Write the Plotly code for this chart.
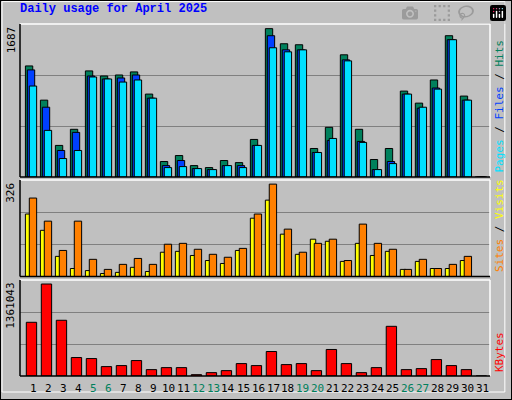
import plotly.graph_objects as go

days = list(range(1, 32))
hits = [1227,849,349,527,1172,1116,1127,1161,916,171,237,126,104,182,159,415,1639,1472,1461,315,549,1350,527,193,315,949,816,1072,1561,894,0]
files = [1183,771,293,493,1116,1083,1094,1127,871,126,182,93,82,126,126,349,1561,1405,1405,271,404,1294,393,82,171,916,760,983,1517,849,0]
pages = [1005,515,204,293,1105,1083,1049,1072,871,104,115,93,82,126,104,349,1428,1383,1405,271,426,1283,382,82,148,916,771,971,1517,849,0]
visits = [265,187,88,187,58,24,41,61,41,109,112,92,75,65,95,211,312,160,82,112,126,54,177,112,92,24,58,27,41,68,0]
sites = [211,156,68,27,20,10,14,31,17,82,85,71,54,44,88,197,258,143,75,126,119,51,112,71,85,24,51,27,27,54,0]
kbytes = [761440,1303966,789994,261745,247468,133252,147529,218914,90421,118975,118975,19036,47590,76144,176083,147529,347407,161806,176083,76144,375961,176083,47590,118975,704332,90421,104698,233191,147529,90421,0]
weekend = [5,6,12,13,19,20,26,27]
max_hits, max_visits, max_kb = 1687, 326, 1361043

fig = go.Figure()
def bar(y, color, off, w, xa, ya):
    fig.add_trace(go.Bar(x=days, y=y, offset=off, width=w, marker=dict(color=color, line=dict(color="black", width=1)),
                         xaxis=xa, yaxis=ya, showlegend=False, hoverinfo="skip"))
bar(hits, "#00805C", -0.51, 0.49, "x", "y")
bar(files, "#0040FF", -0.38, 0.49, "x", "y")
bar(pages, "#00E0FF", -0.25, 0.49, "x", "y")
bar(sites, "#FFFF00", -0.51, 0.36, "x2", "y2")
bar(visits, "#FF8000", -0.25, 0.49, "x2", "y2")
bar(kbytes, "#FF0000", -0.45, 0.69, "x3", "y3")

xd = [20/512, 490/512]
doms = [[1-177/400, 1-24/400], [1-276.5/400, 1-180/400], [1-376/400, 1-280/400]]
maxes = [max_hits, max_visits, max_kb]
lay = dict(barmode="overlay", width=512, height=400, margin=dict(l=0, r=0, t=0, b=0),
           paper_bgcolor="#C0C0C0", plot_bgcolor="#C0C0C0", font=dict(family="DejaVu Sans Mono", size=11, color="black"))
for i in range(3):
    s = "" if i == 0 else str(i+1)
    m = maxes[i]
    top = m * (152/151.7) if i == 0 else m
    lay["xaxis"+s] = dict(domain=xd, range=[0.13, 31.47], showticklabels=False, showgrid=False, zeroline=False, anchor="y"+s, fixedrange=True)
    lay["yaxis"+s] = dict(domain=doms[i], range=[0, top], tickvals=[m/3, 2*m/3], showticklabels=False, showgrid=True,
                          gridcolor="#808080", gridwidth=1, zeroline=False, anchor="x"+s, fixedrange=True)
fig.update_layout(**lay)

shapes = [
    dict(type="rect", xref="paper", yref="paper", x0=0, x1=1, y0=0, y1=1, line=dict(color="black", width=2), fillcolor="rgba(0,0,0,0)"),
    dict(type="rect", xref="paper", yref="paper", x0=0.004, x1=0.986, y0=0.02, y1=0.996, line=dict(color="white", width=1), fillcolor="rgba(0,0,0,0)"),
]
for d in doms:
    shapes.append(dict(type="line", xref="paper", yref="paper", x0=xd[0], x1=xd[1], y0=d[1], y1=d[1], line=dict(color="white", width=1.5)))
    shapes.append(dict(type="line", xref="paper", yref="paper", x0=xd[1], x1=xd[1], y0=d[0], y1=d[1], line=dict(color="white", width=1.5)))
    shapes.append(dict(type="line", xref="paper", yref="paper", x0=xd[0], x1=xd[0], y0=d[0], y1=d[1], line=dict(color="black", width=1.5)))
    shapes.append(dict(type="line", xref="paper", yref="paper", x0=xd[0], x1=xd[1], y0=d[0], y1=d[0], line=dict(color="black", width=1.5)))
fig.update_layout(shapes=shapes)

ann = [dict(text="<b>Daily usage for April 2025</b>", x=18/512, y=1-9/400, xref="paper", yref="paper", xanchor="left", yanchor="middle",
            showarrow=False, font=dict(family="Liberation Mono", size=12, color="#0000FF"))]
for i, m in enumerate(maxes):
    ann.append(dict(text=str(m), x=11/512, y=doms[i][1]-0.002, xref="paper", yref="paper", textangle=-90, xanchor="center", yanchor="top",
                    showarrow=False, font=dict(size=11)))
legends = [
    ('<span style="color:#00E0FF">Pages</span> / <span style="color:#0040FF">Files</span> / <span style="color:#00805C">Hits</span>', doms[0]),
    ('<span style="color:#FF8000">Sites</span> / <span style="color:#FFFF00">Visits</span>', doms[1]),
    ('<span style="color:#FF0000">KBytes</span>', doms[2]),
]
for t, d in legends:
    ann.append(dict(text=t, x=499/512, y=d[0]+0.005, xref="paper", yref="paper", textangle=-90, xanchor="center", yanchor="bottom",
                    showarrow=False, font=dict(size=11, color="black")))
for d in days:
    ann.append(dict(text=str(d), x=d, y=1-388/400, xref="x3", yref="paper", showarrow=False, yanchor="middle",
                    font=dict(size=11, color="#00805C" if d in weekend else "black")))
fig.update_layout(annotations=ann)
fig.write_html("out.html", post_script="document.body.style.margin='0';document.body.style.overflow='hidden';")
